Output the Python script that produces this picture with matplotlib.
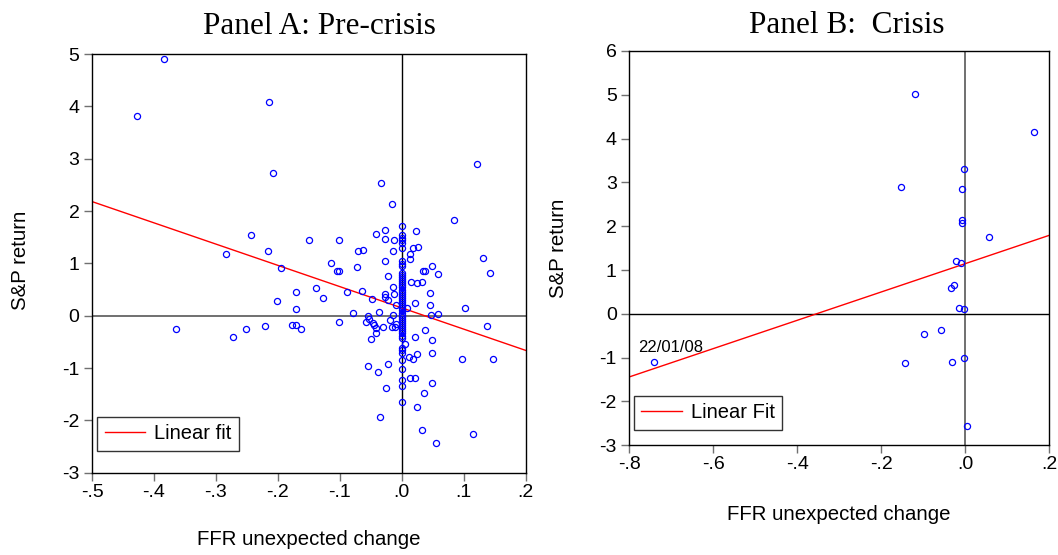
import numpy as np
import matplotlib
matplotlib.use("Agg")
import matplotlib.pyplot as plt

plt.rcParams['font.family'] = ['Liberation Sans', 'DejaVu Sans']

# Panel A: pre-crisis, FFR surprise vs S&P return (off the zero line)
pre_x = [-0.383, -0.427, -0.215, -0.208, -0.033, 0.122, -0.016, 0.084, 0.023, -0.027,
         -0.041, -0.027, -0.012, 0.019, 0.027, -0.014, 0.013, 0.013, -0.071, -0.063,
         -0.027, 0.049, 0.035, 0.037, 0.059, 0.131, 0.143, -0.072, -0.022, 0.015,
         0.025, 0.033, -0.014, -0.027, -0.027, -0.012, -0.022, 0.046, 0.021, 0.046,
         0.009, 0.102, -0.009, -0.048, -0.064, -0.088, -0.036, -0.079, -0.055, -0.052,
         -0.058, -0.047, -0.044, -0.042, -0.042, -0.049, -0.030, -0.019, -0.014, -0.016,
         -0.011, -0.009, 0.005, 0.012, 0.018, 0.025, 0.049, 0.049, 0.038, 0.022,
         0.048, 0.059, 0.138, 0.098, 0.148, -0.054, -0.022, -0.038, 0.014, 0.021,
         0.049, -0.025, 0.036, 0.024, -0.035, 0.033, 0.115, 0.055, -0.244, -0.283,
         -0.216, -0.195, -0.150, -0.101, -0.114, -0.104, -0.101, -0.139, -0.171, -0.127,
         -0.202, -0.171, -0.101, -0.365, -0.272, -0.251, -0.221, -0.177, -0.171, -0.163]
pre_y = [4.90, 3.82, 4.09, 2.73, 2.53, 2.90, 2.14, 1.83, 1.61, 1.64,
         1.56, 1.47, 1.45, 1.30, 1.31, 1.23, 1.17, 1.09, 1.23, 1.25,
         1.05, 0.95, 0.86, 0.86, 0.80, 1.10, 0.82, 0.93, 0.76, 0.64,
         0.62, 0.64, 0.54, 0.42, 0.35, 0.42, 0.30, 0.44, 0.25, 0.21,
         0.15, 0.15, 0.20, 0.32, 0.47, 0.46, 0.07, 0.05, 0.00, -0.06,
         -0.12, -0.14, -0.18, -0.24, -0.33, -0.45, -0.22, -0.08, 0.01, -0.22,
         -0.22, -0.16, -0.55, -0.78, -0.82, -0.74, -0.46, -0.71, -0.28, -0.41,
         0.02, 0.04, -0.20, -0.82, -0.82, -0.96, -0.92, -1.07, -1.20, -1.20,
         -1.29, -1.39, -1.48, -1.74, -1.94, -2.18, -2.27, -2.43, 1.55, 1.18,
         1.24, 0.91, 1.44, 1.45, 1.01, 0.85, 0.86, 0.52, 0.46, 0.33,
         0.28, 0.12, -0.12, -0.26, -0.40, -0.25, -0.20, -0.17, -0.17, -0.25]
# days with zero FFR surprise
zero_y = [1.71, 1.54, 1.49, 1.44, 1.38, 1.30, 1.04, 0.99, 0.95, 0.82,
          0.78, 0.74, 0.70, 0.66, 0.62, 0.58, 0.54, 0.50, 0.46, 0.42,
          0.38, 0.34, 0.30, 0.26, 0.22, 0.18, 0.14, 0.10, 0.06, 0.02,
          -0.02, -0.06, -0.10, -0.14, -0.18, -0.22, -0.26, -0.30, -0.34, -0.38,
          -0.42, -0.62, -0.66, -0.71, -0.84, -1.01, -1.23, -1.35, -1.65]
fit_a = (-4.06, 0.15)  # slope, intercept

# Panel B: crisis
cri_x = [-0.119, 0.164, -0.002, -0.153, -0.008, -0.007, -0.007, 0.058, -0.022, -0.010,
         -0.027, -0.033, -0.014, -0.002, -0.097, -0.057, -0.741, -0.143, -0.030, -0.003,
         0.005]
cri_y = [5.02, 4.16, 3.31, 2.89, 2.84, 2.15, 2.08, 1.75, 1.21, 1.16,
         0.66, 0.60, 0.13, 0.12, -0.46, -0.37, -1.10, -1.12, -1.10, -1.00,
         -2.55]
fit_b = (3.23, 1.144)

xa = np.concatenate([pre_x, np.zeros(len(zero_y))])
ya = np.concatenate([pre_y, zero_y])

fig = plt.figure(figsize=(10.58, 5.55), dpi=100)
axA = fig.add_axes([0.087, 0.1483, 0.4097, 0.7544])
axB = fig.add_axes([0.5948, 0.1977, 0.3967, 0.7105])

def style(ax, xlim, ylim, xticks, xlabels, yticks, vcol, hcol, fit, xs, ys, leg):
    ax.axvline(0, color=vcol, lw=1.0 if vcol == 'black' else 1.4, zorder=1)
    ax.axhline(0, color=hcol, lw=1.0 if hcol == 'black' else 1.4, zorder=1)
    ax.plot(xs, ys, 'o', ls='none', mfc='none', mec='#0000ff', ms=4.4, mew=0.9, zorder=3)
    lx = np.array(xlim)
    ax.plot(lx, fit[0] * lx + fit[1], color='red', lw=1.0, label=leg, zorder=2)
    ax.set_xlim(xlim)
    ax.set_ylim(ylim)
    ax.set_xticks(xticks)
    ax.set_xticklabels(xlabels)
    ax.set_yticks(yticks)
    ax.set_yticklabels([str(v) for v in yticks])
    ax.tick_params(direction='out', length=6, width=1, color='#707070',
                   labelsize=14, pad=2)
    ax.tick_params(axis='y', pad=3)
    for s in ax.spines.values():
        s.set_color('black')
        s.set_linewidth(1.0)
    ax.set_xlabel('FFR unexpected change', fontsize=14.7)
    ax.set_ylabel('S&P return', fontsize=14.7)
    lg = ax.legend(loc='lower left', fontsize=14.5, frameon=True, fancybox=False,
                   borderpad=0.38, handlelength=2.0, handletextpad=0.45,
                   borderaxespad=0)
    lg.get_frame().set_edgecolor('black')
    lg.get_frame().set_linewidth(1.0)
    return lg

lgA = style(axA, (-0.5, 0.2), (-3, 5), [-0.5, -0.4, -0.3, -0.2, -0.1, 0.0, 0.1, 0.2],
            ['-.5', '-.4', '-.3', '-.2', '-.1', '.0', '.1', '.2'], list(range(-3, 6)),
            'black', '#707070', fit_a, xa, ya, 'Linear fit')
lgA.set_bbox_to_anchor((0.012, 0.052), transform=axA.transAxes)
axA.xaxis.set_label_coords(0.5, -0.137)
axA.yaxis.set_label_coords(-0.144, 0.508)

lgB = style(axB, (-0.8, 0.2), (-3, 6), [-0.8, -0.6, -0.4, -0.2, 0.0, 0.2],
            ['-.8', '-.6', '-.4', '-.2', '.0', '.2'], list(range(-3, 7)),
            '#707070', 'black', fit_b, cri_x, cri_y, 'Linear Fit')
lgB.set_bbox_to_anchor((0.0105, 0.039), transform=axB.transAxes)
axB.xaxis.set_label_coords(0.5, -0.151)
axB.yaxis.set_label_coords(-0.145, 0.5)
axB.text(-0.779, -0.864, '22/01/08', fontsize=12, ha='left', va='baseline')

fig.text(0.3015, 0.9387, 'Panel A: Pre-crisis', family='Liberation Serif',
         fontsize=22.5, ha='center', va='baseline')
fig.text(0.8003, 0.9414, 'Panel B:  Crisis', family='Liberation Serif',
         fontsize=22.5, ha='center', va='baseline')

fig.savefig('out.png', dpi=100)
